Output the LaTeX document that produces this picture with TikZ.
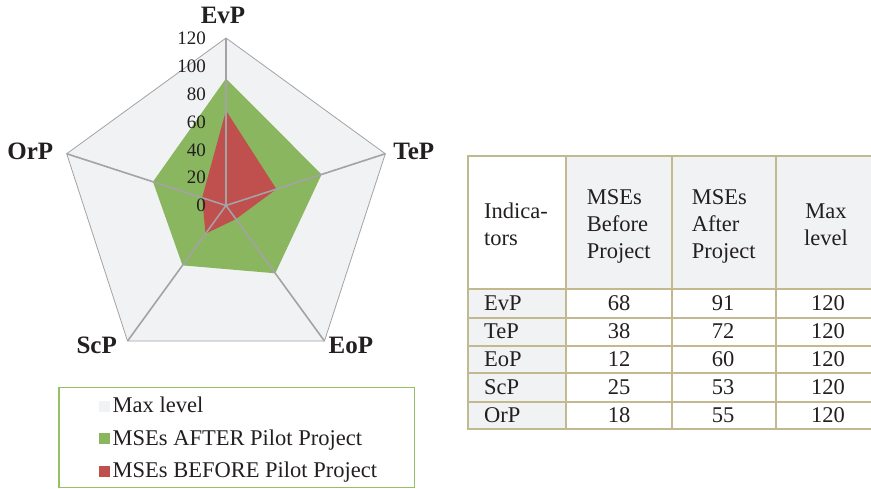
\documentclass[tikz,border=0pt]{standalone}
\usepackage{fontspec}
\setmainfont{Liberation Serif}

\definecolor{maxfill}{HTML}{F1F2F4}
\definecolor{gridgray}{HTML}{A3A3A5}
\definecolor{aftergreen}{HTML}{8AB660}
\definecolor{beforered}{HTML}{C0504D}
\definecolor{tableline}{HTML}{C3B991}
\definecolor{legendline}{HTML}{93C163}
\definecolor{ink}{HTML}{231F20}

\begin{document}
\begin{tikzpicture}[x=1pt,y=-1pt,
  tick/.style={anchor=east, font=\fontsize{19}{19}\selectfont, text=ink, inner sep=0pt},
  axislabel/.style={anchor=base, font=\fontsize{25}{25}\selectfont\bfseries, text=ink, inner sep=0pt},
  cell/.style={font=\fontsize{22.5}{27}\selectfont, text=ink, inner sep=0pt},
  legtext/.style={anchor=base west, font=\fontsize{22.5}{22.5}\selectfont, text=ink, inner sep=0pt},
  swatch/.style={minimum size=11pt, inner sep=0pt, draw=none},
  spoke/.style={draw=gridgray, line width=1.6pt},
  tablerule/.style={draw=tableline, line width=1.8pt}]
\useasboundingbox (0,0) rectangle (871,489);

% ---------- radar chart ----------
\begin{scope}[shift={(226,205.5)}]
  \coordinate (O) at (0,0);
  \foreach \n/\a in {EvP/-90, TeP/-18, EoP/54, ScP/126, OrP/198}
    \coordinate (\n) at (\a:167.5);
  % maximum level
  \fill[maxfill] (EvP) -- (TeP) -- (EoP) -- (ScP) -- (OrP) -- cycle;
  \draw[gridgray, line width=0.8pt] (EvP) -- (TeP) -- (EoP) -- (ScP) -- (OrP) -- cycle;
  % after the pilot project: 91, 72, 60, 53, 55
  \fill[aftergreen] (-90:127.0) -- (-18:100.5) -- (54:83.8) -- (126:74.0) -- (198:76.8) -- cycle;
  % before the pilot project: 68, 38, 12, 25, 18
  \fill[beforered] (-90:94.9) -- (-18:53.0) -- (54:16.8) -- (126:34.9) -- (198:25.1) -- cycle;
  % axes
  \foreach \n in {EvP, TeP, EoP, ScP, OrP}
    \draw[spoke] (O) -- (\n);
\end{scope}

% scale values
\foreach \v in {0,20,...,120}
  \node[tick] (t\v) at (206, {205.5-\v*1.39}) {\v};

% axis names
\node[axislabel] (lEvP) at (223,24)    {EvP};
\node[axislabel] (lTeP) at (413.8,159.3) {TeP};
\node[axislabel] (lEoP) at (350.8,354) {EoP};
\node[axislabel] (lScP) at (96.7,354)  {ScP};
\node[axislabel] (lOrP) at (30.3,159.3) {OrP};

% ---------- legend ----------
\draw[legendline, line width=1.5pt] (59,387.3) rectangle (414.3,487.3);
\node[swatch, fill=maxfill]    (kMax)    at (104,406.5) {};
\node[swatch, fill=aftergreen] (kAfter)  at (104,438.5) {};
\node[swatch, fill=beforered]  (kBefore) at (104,471) {};
\node[legtext] (lMax)    at (112.5,412.5) {Max level};
\node[legtext] (lAfter)  at (112.5,445)   {MSEs AFTER Pilot Project};
\node[legtext] (lBefore) at (112.5,477.5) {MSEs BEFORE Pilot Project};

% ---------- table ----------
\fill[maxfill] (566,156) rectangle (871,289.3);
\fill[maxfill] (468.3,289.3) rectangle (566,429.3);
\foreach \y in {156,289.3,317.7,345.7,373.3,401.7,429.3}
  \draw[tablerule] (467.4,\y) -- (871,\y);
\foreach \x in {468.3,566,671.7,776}
  \draw[tablerule] (\x,156) -- (\x,429.3);

% header
\node[cell, anchor=north west, align=left]   (hInd)    at (484,202.8)   {Indica-\\tors};
\node[cell, anchor=north west, align=left]   (hBefore) at (586.7,189.3) {MSEs\\Before\\Project};
\node[cell, anchor=north west, align=left]   (hAfter)  at (691.7,189.3) {MSEs\\After\\Project};
\node[cell, anchor=north, align=center]      (hMax)    at (826,203.3)   {Max\\level};

% rows
\foreach \nm/\b/\a [count=\i] in {EvP/68/91, TeP/38/72, EoP/12/60, ScP/25/53, OrP/18/55} {
  \pgfmathsetmacro{\yb}{310.9+(\i-1)*28}
  \node[cell, anchor=base west] (r\i n) at (484,\yb)   {\nm};
  \node[cell, anchor=base]      (r\i b) at (619,\yb)   {\b};
  \node[cell, anchor=base]      (r\i a) at (723,\yb)   {\a};
  \node[cell, anchor=base]      (r\i m) at (828,\yb)   {120};
}
\end{tikzpicture}
\end{document}
